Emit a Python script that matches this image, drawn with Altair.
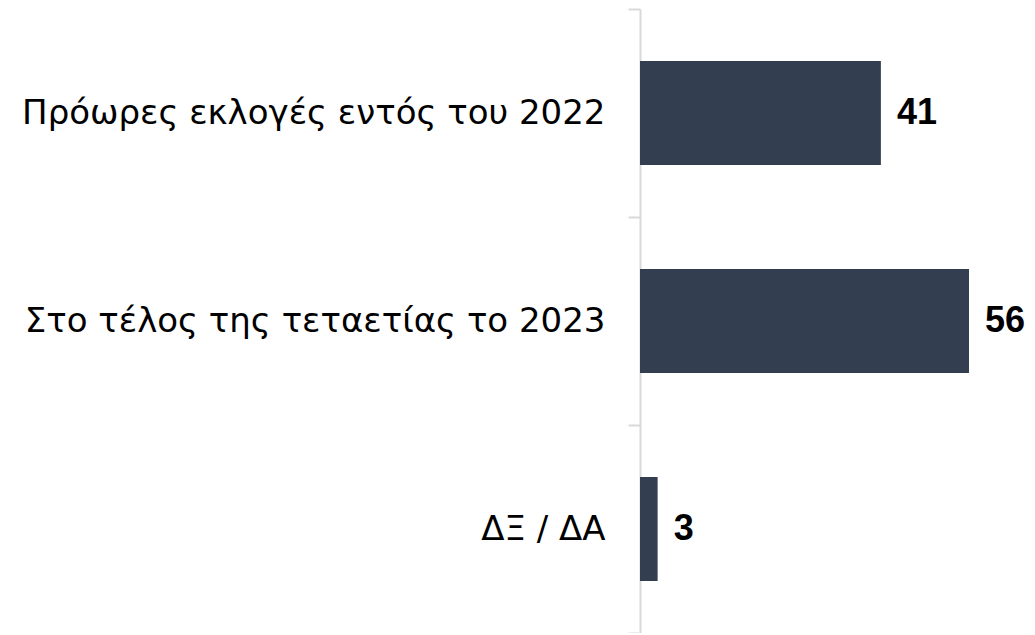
import altair as alt
import pandas as pd

categories = ["Πρόωρες εκλογές εντός του 2022", "Στο τέλος της τεταετίας το 2023", "ΔΞ / ΔΑ"]
values = [41, 56, 3]

df = pd.DataFrame({"cat": categories, "val": values})

y = alt.Y(
    "cat:N",
    sort=categories,
    title=None,
    scale=alt.Scale(paddingInner=0, paddingOuter=0),
    axis=alt.Axis(
        domainColor="#d9d9d9",
        domainWidth=2,
        tickColor="#d9d9d9",
        tickWidth=2,
        tickSize=12,
        tickBand="extent",
        labelFontSize=34,
        labelFont="DejaVu Sans",
        labelColor="#000000",
        labelPadding=23,
        labelLimit=1000,
    ),
)
x = alt.X("val:Q", scale=alt.Scale(domain=[0, 64], nice=False), axis=None)

bars = alt.Chart(df).mark_bar(color="#333f50", height=alt.RelativeBandSize(band=0.5)).encode(x=x, y=y)
text = alt.Chart(df).mark_text(
    align="left", baseline="middle", dx=16, fontSize=36, fontWeight="bold",
    font="Liberation Sans", color="#000000"
).encode(x=x, y=y, text="val:Q")

chart = (bars + text).properties(
    width=376, height=624,
    autosize=alt.AutoSizeParams(type="none"),
    padding={"left": 632, "top": 1, "right": 10, "bottom": 0},
).configure_view(stroke=None)

chart.save("out.html", embed_options={"renderer": "svg", "actions": False})
